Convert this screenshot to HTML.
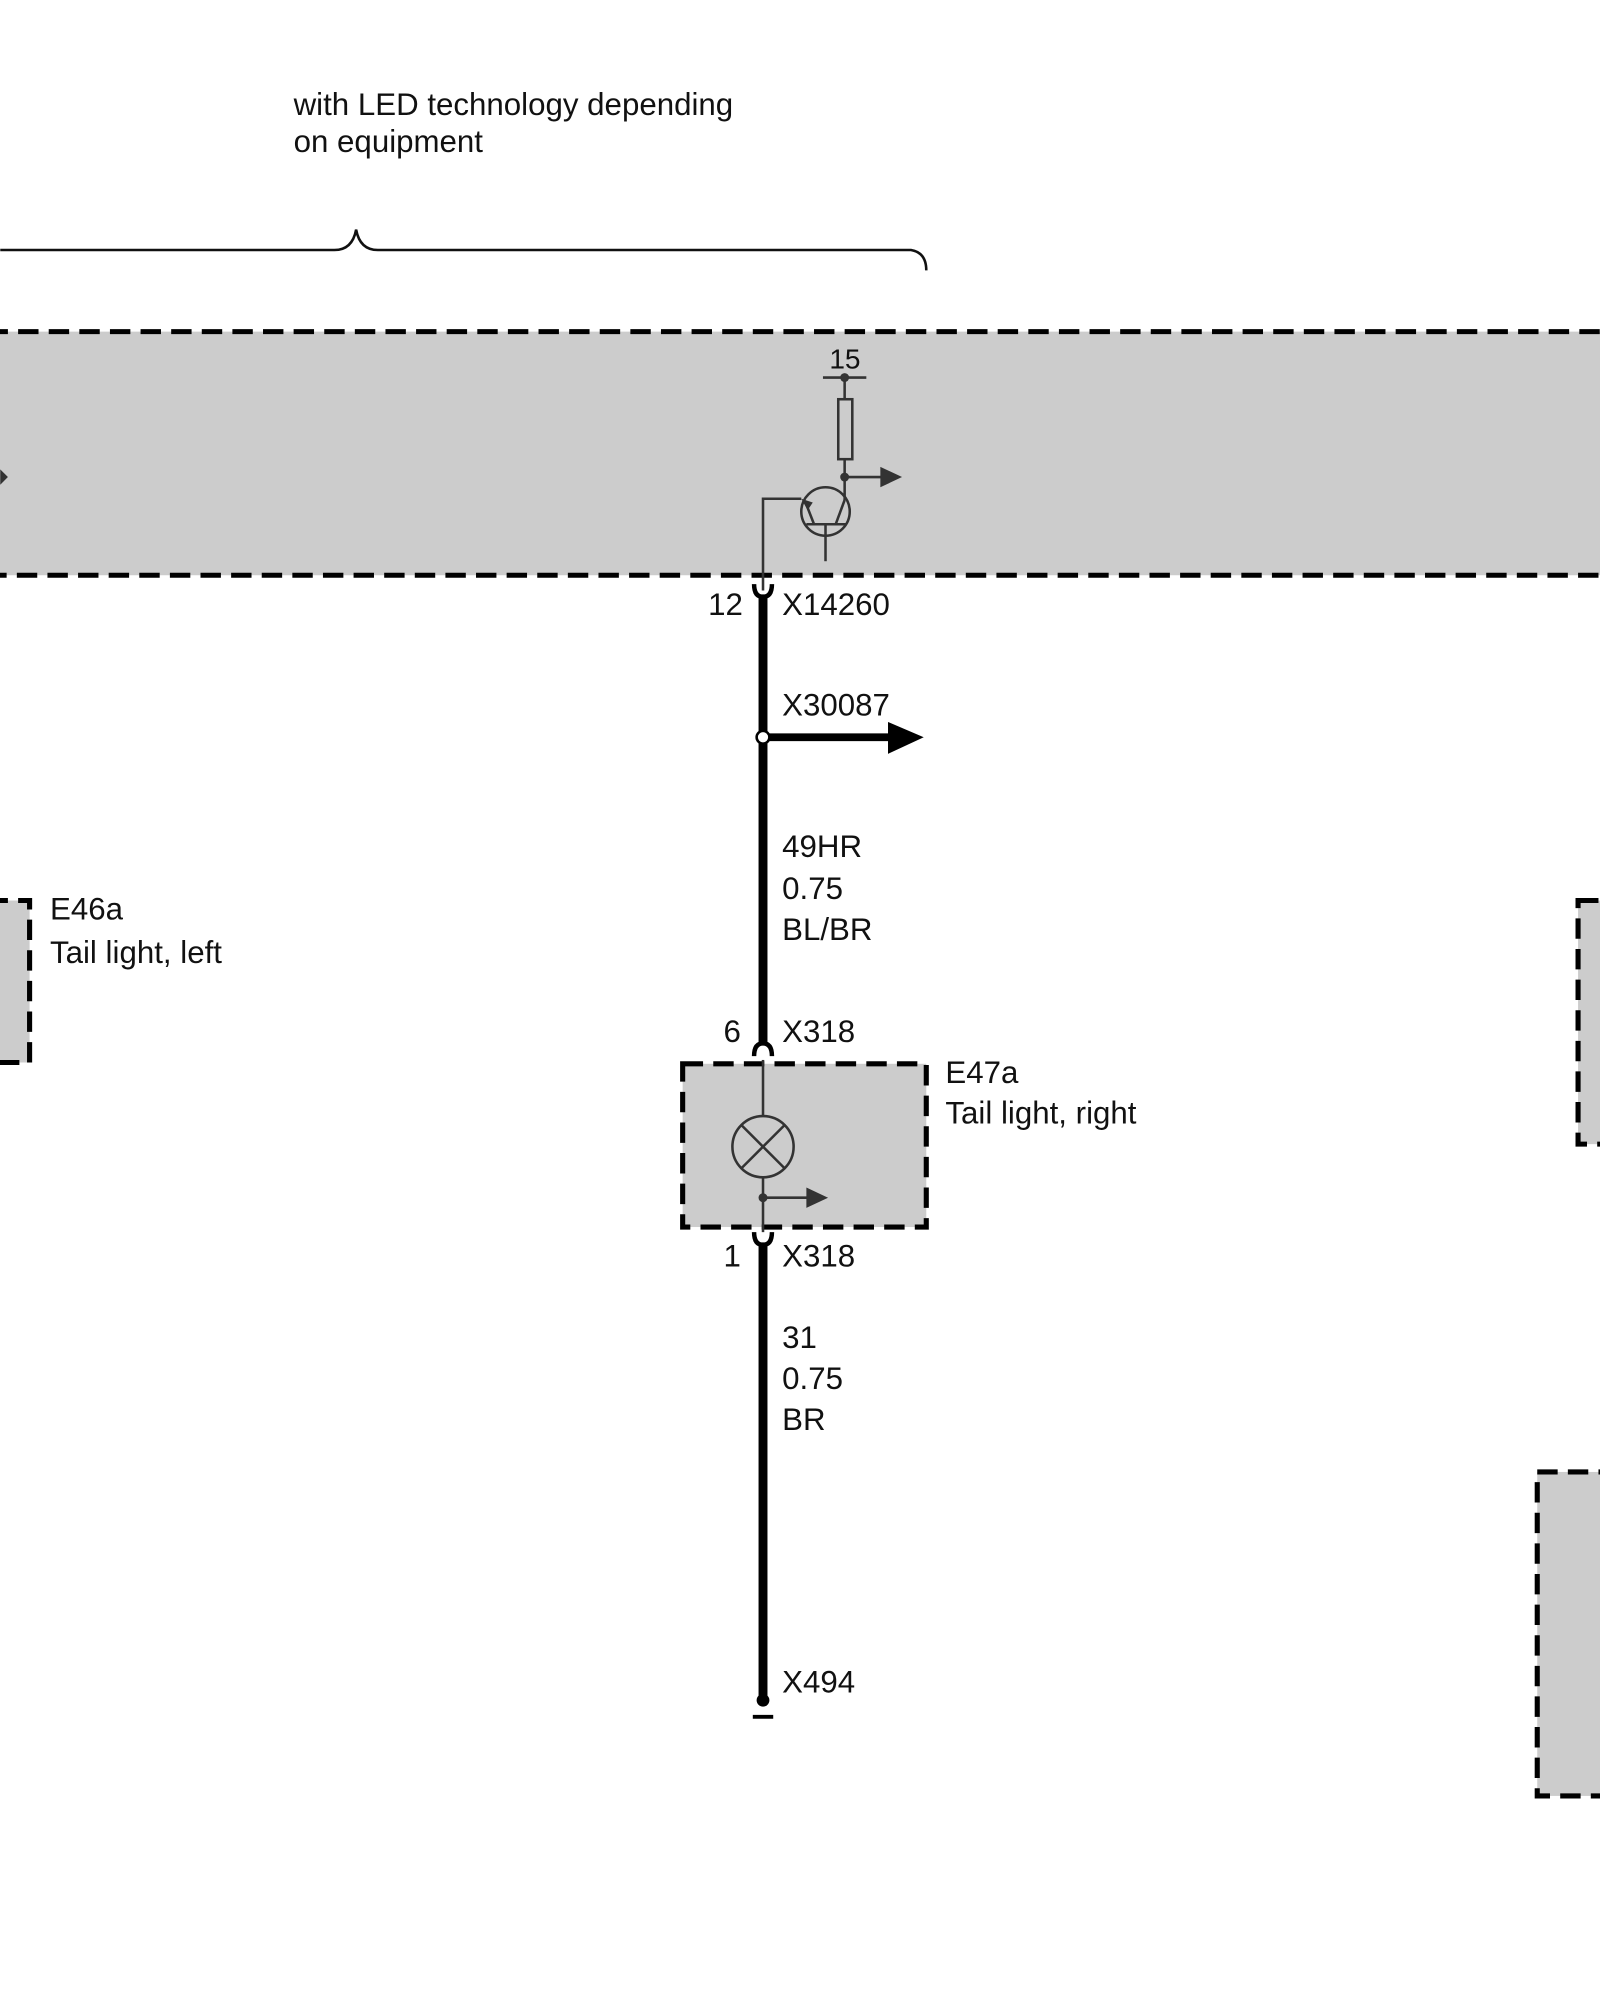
<!DOCTYPE html>
<html><head><meta charset="utf-8"><style>html,body{margin:0;padding:0;background:#fff}svg{display:block}</style></head>
<body>
<svg width="1600" height="2000" viewBox="0 0 1254 1568" xmlns="http://www.w3.org/2000/svg" font-family="Liberation Sans, sans-serif" font-size="24.5" fill="#111">
<text x="230" y="90">with LED technology depending</text>
<text x="230" y="119">on equipment</text>
<path d="M0 196 H262 Q276 196 279 180 Q282 196 296 196 H714 Q726 198 726 212" fill="none" stroke="#111" stroke-width="2"/>
<g stroke="#000" stroke-width="4" stroke-dasharray="16 8" fill="#cccccc">
<rect x="-10" y="260" width="1280" height="191"/>
<rect x="-10" y="706" width="33" height="127"/>
<rect x="535" y="834" width="191" height="128"/>
<rect x="1237" y="706" width="40" height="191"/>
<rect x="1205" y="1154" width="70" height="254"/>
</g>
<path d="M0 368 L6 374 L0 380Z" fill="#333"/>
<g stroke="#333" stroke-width="2" fill="none">
<line x1="645" y1="296" x2="679" y2="296"/>
<line x1="662" y1="296" x2="662" y2="313"/>
<rect x="657" y="313" width="11" height="47"/>
<line x1="662" y1="360" x2="662" y2="392"/>
<line x1="662" y1="374" x2="692" y2="374"/>
<circle cx="647" cy="401" r="19"/>
<line x1="632" y1="411" x2="663" y2="411"/>
<line x1="647" y1="411" x2="647" y2="440"/>
<line x1="655" y1="411" x2="662" y2="392"/>
<line x1="638" y1="411" x2="631" y2="393"/>
<polyline points="598,463 598,391 628,391"/>
</g>
<path d="M628 391 L637 394 L633 400Z" fill="#333"/>
<circle cx="662" cy="296" r="3.5" fill="#333"/>
<circle cx="662" cy="374" r="3.5" fill="#333"/>
<path d="M690 366 L707 374 L690 382Z" fill="#333"/>
<text x="650" y="289" font-size="22">15</text>
<line x1="598" y1="466" x2="598" y2="818" stroke="#000" stroke-width="7"/>
<line x1="598" y1="974" x2="598" y2="1333" stroke="#000" stroke-width="7"/>
<path d="M591 458 Q591 468 598 468 Q605 468 605 458" fill="none" stroke="#000" stroke-width="3.5"/>
<path d="M591 828 Q591 818 598 818 Q605 818 605 828" fill="none" stroke="#000" stroke-width="3.5"/>
<path d="M591 966 Q591 976 598 976 Q605 976 605 966" fill="none" stroke="#000" stroke-width="3.5"/>
<text x="555" y="482">12</text><text x="613" y="482">X14260</text>
<line x1="598" y1="578" x2="700" y2="578" stroke="#000" stroke-width="6"/>
<path d="M696 566 L724 578 L696 591Z" fill="#000"/>
<circle cx="598" cy="578" r="5" fill="#fff" stroke="#000" stroke-width="2"/>
<text x="613" y="561">X30087</text>
<text x="613" y="672">49HR</text><text x="613" y="705">0.75</text><text x="613" y="737">BL/BR</text>
<text x="39" y="721">E46a</text><text x="39" y="755">Tail light, left</text>
<text x="567" y="817">6</text><text x="613" y="817">X318</text>
<text x="741" y="849">E47a</text><text x="741" y="881">Tail light, right</text>
<g stroke="#333" stroke-width="2" fill="none">
<line x1="598" y1="831" x2="598" y2="875"/>
<circle cx="598" cy="899" r="24"/>
<line x1="581" y1="882" x2="615" y2="916"/><line x1="615" y1="882" x2="581" y2="916"/>
<line x1="598" y1="923" x2="598" y2="966"/>
<line x1="598" y1="939" x2="635" y2="939"/>
</g>
<circle cx="598" cy="939" r="3.5" fill="#333"/>
<path d="M632 931 L649 939 L632 947Z" fill="#333"/>
<text x="567" y="993">1</text><text x="613" y="993">X318</text>
<text x="613" y="1057">31</text><text x="613" y="1089">0.75</text><text x="613" y="1121">BR</text>
<text x="613" y="1327">X494</text>
<circle cx="598" cy="1333" r="5" fill="#000"/>
<line x1="590" y1="1346" x2="606" y2="1346" stroke="#000" stroke-width="3"/>
</svg>
</body></html>
